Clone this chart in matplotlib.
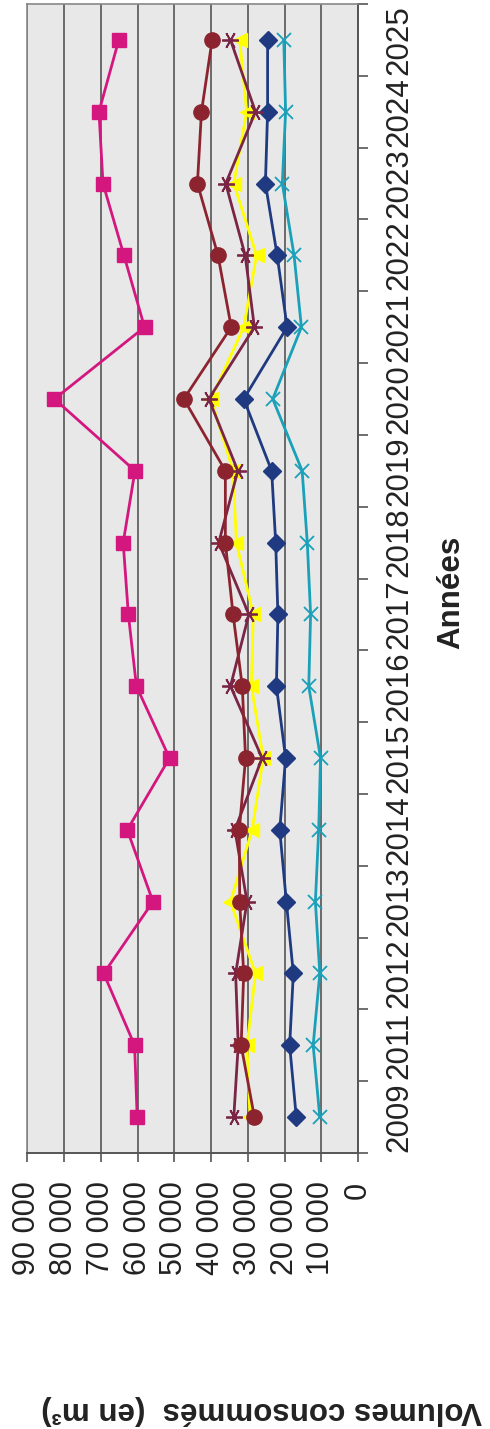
import numpy as np
import matplotlib
matplotlib.use("Agg")
import matplotlib.pyplot as plt
from matplotlib.ticker import FixedLocator

plt.rcParams['font.family'] = ['Liberation Sans', 'DejaVu Sans']

years = ['2009', '2011', '2012', '2013', '2014', '2015', '2016', '2017',
         '2018', '2019', '2020', '2021', '2022', '2023', '2024', '2025']

navy = [16800, 18600, 17600, 19500, 21300, 19700, 22200, 21800,
        22400, 23500, 31100, 19300, 22000, 25200, 24600, 24600]
magenta = [60100, 60800, 69200, 55800, 62800, 51300, 60300, 62500,
           63900, 60700, 82600, 58100, 63700, 69400, 70500, 65100]
yellow = [29400, 30200, 27900, 34700, 28800, 25800, 29000, 28500,
          33100, 34000, 40000, 31100, 27600, 33800, 30300, 32200]
teal = [10400, 12200, 10400, 11600, 10700, 10200, 13400, 12900,
        13800, 15200, 23200, 15400, 17400, 20600, 19700, 20200]
star = [33800, 32600, 33300, 30200, 33500, 26100, 34700, 29700,
        37900, 32700, 40600, 28200, 30700, 36000, 27900, 34700]
darkred = [28200, 31800, 31100, 32200, 32300, 30600, 31500, 34000,
           36100, 36100, 47400, 34500, 38100, 43700, 42600, 39700]

value_ticks = list(range(0, 90001, 10000))
value_labels = ['0'] + [f"{v // 1000} 000" for v in value_ticks[1:]]

W, H = 490, 1429
fig = plt.figure(figsize=(W / 100, H / 100), dpi=100)
left, right, top, bottom = 27.3, 358, 4, 1153
ax = fig.add_axes([left / W, (H - bottom) / H, (right - left) / W, (bottom - top) / H])
ax.set_facecolor('#e8e8e8')

pos = np.arange(len(years))
# chart is drawn turned a quarter turn: values run along x, years along y
series = [
    (navy, '#1f3a80', 'D', 9, 1.0),
    (magenta, '#d4177f', 's', 10.5, 1.0),
    (yellow, '#ffff00', '<', 10, 1.0),
    (teal, '#1aa0b8', 'x', 10, 1.3),
    (star, '#7a2545', (6, 2, 90), 12, 1.3),
    (darkred, '#8c2430', 'o', 11, 1.0),
]
for vals, col, mk, ms, mew in series:
    ax.plot(vals, pos, color=col, lw=2.0, marker=mk, markersize=ms,
            markerfacecolor=col, markeredgecolor=col, markeredgewidth=mew,
            zorder=3)

ax.set_xlim(90000, 0)
ax.set_ylim(-0.5, len(years) - 0.5)

ax.set_xticks(value_ticks)
ax.set_xticklabels(value_labels, rotation=90, fontsize=22, color='#222222')
ax.xaxis.grid(True, color='#555555', lw=1.2)
ax.set_axisbelow(True)
ax.tick_params(axis='x', direction='out', length=6.5, width=1.2, color='#555555', pad=14)

ax.yaxis.tick_right()
ax.set_yticks(pos)
ax.set_yticklabels(years, rotation=90, fontsize=22.5, color='#222222', va='center')
ax.yaxis.set_minor_locator(FixedLocator(np.arange(-0.5, len(years), 1.0)))
ax.tick_params(axis='y', which='major', length=0, pad=19)
ax.tick_params(axis='y', which='minor', direction='out', length=7, width=1.2,
               color='#555555', right=True, left=False)

for side in ['left', 'top']:
    ax.spines[side].set_color('#888888')
    ax.spines[side].set_linewidth(1.2)
for side in ['right', 'bottom']:
    ax.spines[side].set_color('#555555')
    ax.spines[side].set_linewidth(1.4)

fig.text(451 / W, 1 - 592 / H, 'Années', rotation=90, ha='center', va='center',
         fontsize=22.5, fontweight='bold', color='#222222')
fig.text(262 / W, 1 - 1410 / H, 'Volumes consommés  (en m³)', rotation=180,
         ha='center', va='center', fontsize=22.5, fontweight='bold', color='#222222')

fig.savefig('out.png', dpi=100)
